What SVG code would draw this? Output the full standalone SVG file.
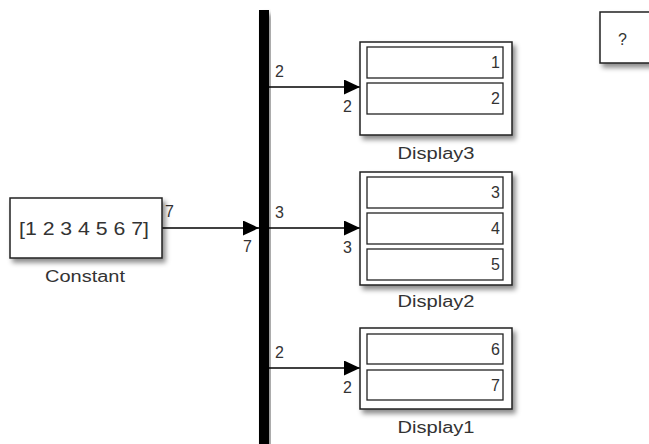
<svg xmlns="http://www.w3.org/2000/svg" width="649" height="444" viewBox="0 0 649 444">
<style>
text{font-family:"Liberation Sans",Arial,sans-serif;fill:#333}
.blk{fill:#fff;stroke:#222;stroke-width:1.5}
.row{fill:#fff;stroke:#222;stroke-width:1.3}
.lbl{font-size:16px}
.val{font-size:16px;text-anchor:end}
.name{font-size:16px;text-anchor:middle}
.ln{stroke:#000;stroke-width:1.3;fill:none}
</style>
<defs>
<filter id="sh" x="-10%" y="-10%" width="130%" height="140%">
<feDropShadow dx="3" dy="4" stdDeviation="2.5" flood-color="#000" flood-opacity="0.45"/>
</filter>
<marker id="ah" markerWidth="16" markerHeight="16" refX="16" refY="7.5" orient="auto" markerUnits="userSpaceOnUse">
<path d="M0,0 L16,7.5 L0,15 Z" fill="#000"/>
</marker>
</defs>
<g id="connectors">
<path class="ln" d="M162,228 H259" marker-end="url(#ah)"/>
<path class="ln" d="M269,87 H360" marker-end="url(#ah)"/>
<path class="ln" d="M269,228 H360" marker-end="url(#ah)"/>
<path class="ln" d="M269,368 H360" marker-end="url(#ah)"/>
<text class="lbl" x="165" y="217">7</text>
<text class="lbl" x="243" y="252">7</text>
<text class="lbl" x="275" y="77">2</text>
<text class="lbl" x="343" y="112">2</text>
<text class="lbl" x="275" y="218">3</text>
<text class="lbl" x="343" y="253">3</text>
<text class="lbl" x="275" y="358">2</text>
<text class="lbl" x="343" y="393">2</text>
</g>
<g id="Constant">
<rect class="blk" x="10" y="198" width="152" height="60" filter="url(#sh)"/>
<text x="84" y="235" font-size="18" text-anchor="middle" textLength="130" lengthAdjust="spacingAndGlyphs">[1 2 3 4 5 6 7]</text>
<text class="name" x="85" y="282" textLength="80" lengthAdjust="spacingAndGlyphs">Constant</text>
</g>
<g id="BusSelector">
<rect x="259" y="10" width="10" height="440" fill="#000" filter="url(#sh)"/>
</g>
<g id="Display3">
<rect class="blk" x="360" y="42" width="152" height="93" filter="url(#sh)"/>
<rect class="row" x="367" y="47" width="136" height="31"/>
<rect class="row" x="367" y="83" width="136" height="31"/>
<text class="val" x="500" y="68">1</text>
<text class="val" x="500" y="104">2</text>
<text class="name" x="436" y="159" textLength="77" lengthAdjust="spacingAndGlyphs">Display3</text>
</g>
<g id="Display2">
<rect class="blk" x="360" y="172" width="152" height="113" filter="url(#sh)"/>
<rect class="row" x="367" y="177" width="136" height="31"/>
<rect class="row" x="367" y="213" width="136" height="31"/>
<rect class="row" x="367" y="249" width="136" height="31"/>
<text class="val" x="500" y="198">3</text>
<text class="val" x="500" y="234">4</text>
<text class="val" x="500" y="270">5</text>
<text class="name" x="436" y="307" textLength="77" lengthAdjust="spacingAndGlyphs">Display2</text>
</g>
<g id="Display1">
<rect class="blk" x="360" y="328" width="152" height="81" filter="url(#sh)"/>
<rect class="row" x="367" y="334" width="136" height="30"/>
<rect class="row" x="367" y="370" width="136" height="30"/>
<text class="val" x="500" y="355">6</text>
<text class="val" x="500" y="391">7</text>
<text class="name" x="436" y="433" textLength="77" lengthAdjust="spacingAndGlyphs">Display1</text>
</g>
<g id="Unknown">
<rect class="blk" x="600" y="12" width="70" height="51" filter="url(#sh)"/>
<text x="618" y="45" font-size="16">?</text>
</g>
</svg>
